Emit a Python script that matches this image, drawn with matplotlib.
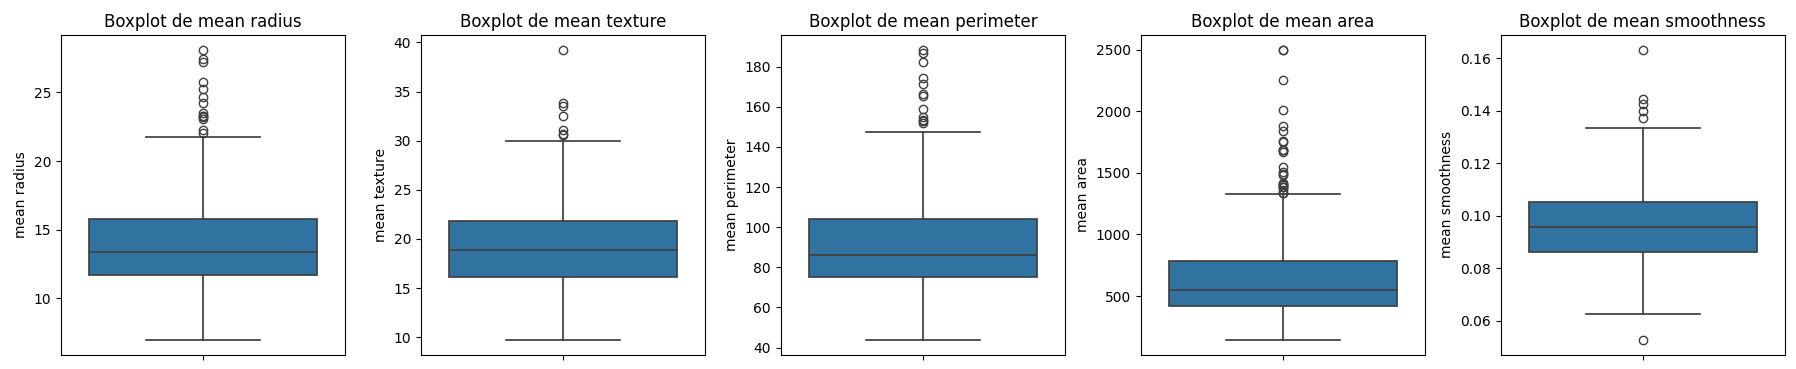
import matplotlib
matplotlib.use("Agg")
import matplotlib.pyplot as plt

# variables del dataset (breast cancer), estadisticos
variables = ['mean radius', 'mean texture', 'mean perimeter', 'mean area', 'mean smoothness']

q1 = [11.70, 16.17, 75.17, 420.3, 0.08637]
medianas = [13.37, 18.84, 86.24, 551.1, 0.09587]
q3 = [15.78, 21.80, 104.1, 782.7, 0.1053]
bigote_inf = [6.981, 9.71, 43.79, 143.5, 0.06251]
bigote_sup = [21.75, 29.97, 147.3, 1326.0, 0.1335]

outliers_radius = [22.01, 22.27, 23.09, 23.21, 23.27, 23.29, 23.51, 24.25, 24.63,
                   25.22, 25.73, 27.22, 27.42, 28.11]
outliers_texture = [30.62, 30.72, 31.12, 32.47, 33.56, 33.81, 39.28]
outliers_perimeter = [152.1, 152.8, 153.5, 155.1, 158.9, 165.5, 166.2, 171.5, 174.2,
                      182.1, 186.9, 188.5]
outliers_area = [1335, 1338, 1364, 1384, 1386, 1386, 1404, 1407, 1408, 1419, 1482,
                 1491, 1509, 1546, 1670, 1682, 1685, 1686, 1747, 1761, 1841, 1878,
                 2010, 2250, 2499, 2501]
outliers_smoothness = [0.05263, 0.1371, 0.1398, 0.1425, 0.1447, 0.1634]

outliers = [outliers_radius, outliers_texture, outliers_perimeter, outliers_area,
            outliers_smoothness]

color_caja = '#3274a1'
color_linea = '#3f3f3f'

fig, axes = plt.subplots(1, 5, figsize=(17.96, 3.69), dpi=100)
plt.subplots_adjust(left=61 / 1796, right=1785 / 1796, bottom=1 - 354.5 / 369,
                    top=1 - 35 / 369, wspace=0.265)

for i, ax in enumerate(axes):
    stats = [{
        'med': medianas[i], 'q1': q1[i], 'q3': q3[i],
        'whislo': bigote_inf[i], 'whishi': bigote_sup[i],
        'fliers': outliers[i],
    }]
    ax.bxp(stats, positions=[0], widths=0.8, patch_artist=True, showfliers=True,
           boxprops=dict(facecolor=color_caja, edgecolor=color_linea, linewidth=1.25),
           medianprops=dict(color=color_linea, linewidth=1.25),
           whiskerprops=dict(color=color_linea, linewidth=1.25),
           capprops=dict(color=color_linea, linewidth=1.25),
           capwidths=0.4,
           flierprops=dict(marker='o', markerfacecolor='none', markeredgecolor=color_linea,
                           markersize=6, linewidth=0))
    ax.set_xlim(-0.5, 0.5)
    ax.set_xticks([0])
    ax.set_xticklabels([''])
    ax.set_ylabel(variables[i])
    ax.set_title(f'Boxplot de {variables[i]}')

plt.savefig('out.png', dpi=100)
